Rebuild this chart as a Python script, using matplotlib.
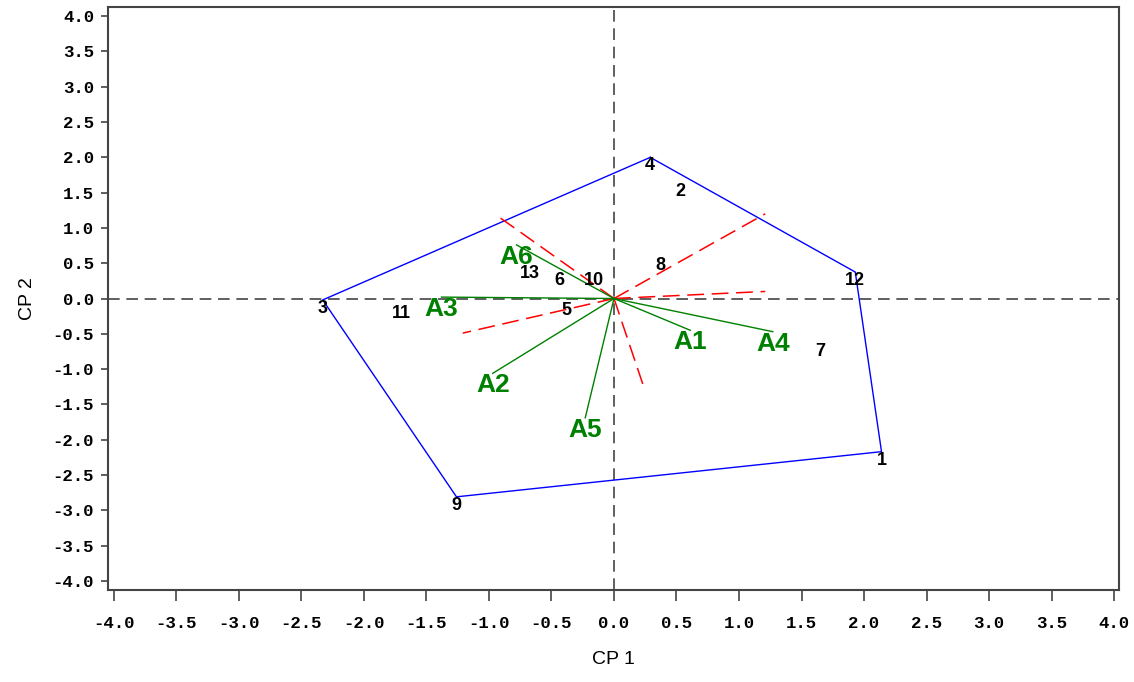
import matplotlib
matplotlib.use("Agg")
import matplotlib.pyplot as plt

plt.rcParams['axes.unicode_minus'] = False

# genotype scores (CP1, CP2)
gen_names = ['1', '2', '3', '4', '5', '6', '7', '8', '9', '10', '11', '12', '13']
gen_x = [2.14, 0.53, -2.33, 0.29, -0.38, -0.44, 1.65, 0.37, -1.26, -0.16, -1.70, 1.93, -0.67]
gen_y = [-2.17, 1.64, -0.02, 2.00, -0.05, 0.38, -0.63, 0.59, -2.81, 0.38, -0.09, 0.375, 0.47]

# environment vectors
env_names = ['A1', 'A2', 'A3', 'A4', 'A5', 'A6']
env_x = [0.61, -0.97, -1.38, 1.27, -0.23, -0.78]
env_y = [-0.45, -1.06, 0.02, -0.47, -1.69, 0.76]

# polygon vertices (genotypes)
hull = ['4', '12', '1', '9', '3']

# sector lines (perpendicular to polygon sides) end points
sect_x = [-0.94, 1.21, 1.21, 0.23, -1.21]
sect_y = [1.18, 1.20, 0.10, -1.21, -0.49]

ticks = [-4.0, -3.5, -3.0, -2.5, -2.0, -1.5, -1.0, -0.5, 0.0, 0.5, 1.0, 1.5, 2.0, 2.5, 3.0, 3.5, 4.0]

fig = plt.figure(figsize=(11.34, 6.82), dpi=100)
ax = fig.add_axes([0.0952, 0.1349, 0.8916, 0.8548])

ax.axhline(0, color='#444444', lw=1.2, dashes=(7, 4), zorder=1)
ax.axvline(0, color='#444444', lw=1.2, dashes=(7, 4), zorder=1)

# polygon
hx = [gen_x[gen_names.index(h)] for h in hull] + [gen_x[gen_names.index(hull[0])]]
hy = [gen_y[gen_names.index(h)] for h in hull] + [gen_y[gen_names.index(hull[0])]]
ax.plot(hx, hy, color='blue', lw=1.0, zorder=2)

# sector lines
for x, y in zip(sect_x, sect_y):
    ax.plot([0, x], [0, y], color='red', lw=1.1, dashes=(11, 5), zorder=2)

# environment vectors
for name, x, y in zip(env_names, env_x, env_y):
    ax.plot([0, x], [0, y], color='green', lw=1.0, zorder=3)
    ax.text(x, y, name, color='green', fontsize=19, fontweight='bold',
            family='Liberation Sans', ha='center', va='top', zorder=4)

# genotype labels
for name, x, y in zip(gen_names, gen_x, gen_y):
    ax.text(x, y, name, color='black', fontsize=13, fontweight='bold',
            family='Liberation Sans', ha='center', va='top', zorder=4)

ax.set_xlim(-4.048, 4.04)
ax.set_ylim(-4.13, 4.13)
ax.set_xticks(ticks)
ax.set_yticks(ticks)
ax.set_xticklabels(['%.1f' % t for t in ticks], family='Liberation Mono', fontweight='bold', fontsize=12.5)
ax.set_yticklabels(['%.1f' % t for t in ticks], family='Liberation Mono', fontweight='bold', fontsize=12.5)
ax.tick_params(axis='x', direction='out', length=8, width=1.2, color='#444444', pad=11)
ax.tick_params(axis='y', direction='out', length=5, width=1.2, color='#444444', pad=5)
for s in ax.spines.values():
    s.set_color('#444444')
    s.set_linewidth(1.5)

ax.set_xlabel('CP 1', family='Liberation Sans', fontsize=14, labelpad=14)
ax.set_ylabel('CP 2', family='Liberation Sans', fontsize=14, labelpad=12)

fig.savefig('out.png', dpi=100)
